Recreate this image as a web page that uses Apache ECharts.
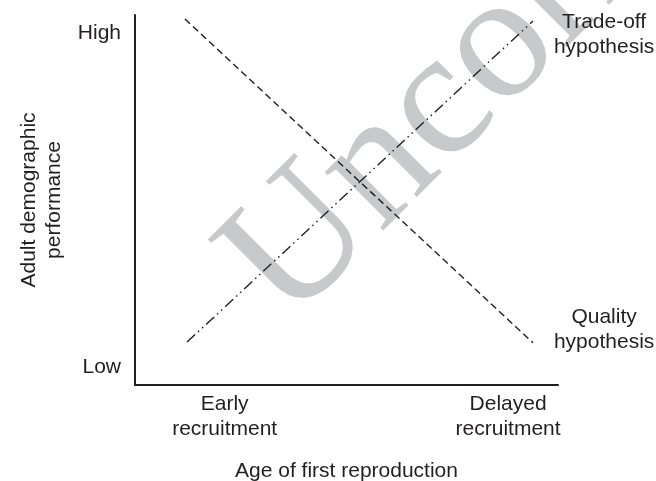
<!DOCTYPE html>
<html><head><meta charset="utf-8">
<script src="https://cdn.jsdelivr.net/npm/echarts@6/dist/echarts.min.js"></script>
<style>html,body{margin:0;padding:0;background:#fff}#c{width:656px;height:481px}</style>
</head><body><div id="c"></div>
<script>
// Axis tick labels (conceptual axes)
const xTickValues = [2.12, 8.82];
const xTickLabels = ['Early\nrecruitment', 'Delayed\nrecruitment'];
const yTickValues = [0.49, 9.51];
const yTickLabels = ['Low', 'High'];
// Hypothesis lines
const qualityHypothesis = [[1.18, 9.89], [9.41, 1.14]];
const tradeoffHypothesis = [[1.23, 1.16], [9.41, 9.84]];
// Annotations
const annotationLabels = ['Trade-off\nhypothesis', 'Quality\nhypothesis'];
const annotationPoints = [[11.09, 9.46], [11.09, 1.49]];
const xAxisTitle = 'Age of first reproduction';
const yAxisTitle = 'Adult demographic\nperformance';
const watermarkText = 'Uncorrected Proof';

const ink = '#231f20';
const font = 'Liberation Sans, Arial, Helvetica, sans-serif';
const chart = echarts.init(document.getElementById('c'), null, {renderer: 'canvas'});

chart.setOption({
  backgroundColor: '#fff',
  animation: false,
  textStyle: {fontFamily: font, color: ink},
  graphic: [{
    type: 'text', x: 255, y: 292, rotation: Math.PI / 4, z: -10, silent: true,
    style: {text: watermarkText, font: '180px "Liberation Serif", "Times New Roman", serif',
      fill: '#c8c9cb', align: 'left', verticalAlign: 'middle'}
  }],
  grid: {left: 135, right: 98, top: 15, bottom: 96, outerBoundsMode: 'none', containLabel: false},
  xAxis: {
    type: 'value', min: 0, max: 10,
    name: xAxisTitle, nameLocation: 'middle', nameGap: 74,
    nameTextStyle: {fontSize: 21, color: ink, fontFamily: font, lineHeight: 25},
    axisLine: {show: true, lineStyle: {color: ink, width: 2}},
    axisTick: {show: false}, splitLine: {show: false},
    axisLabel: {
      customValues: xTickValues, margin: 7, fontSize: 21, lineHeight: 25, color: ink, fontFamily: font,
      formatter: v => { const i = xTickValues.indexOf(v); return i >= 0 ? xTickLabels[i] : ''; }
    }
  },
  yAxis: {
    type: 'value', min: 0, max: 10,
    name: yAxisTitle, nameLocation: 'middle', nameGap: 67,
    nameTextStyle: {fontSize: 21, color: ink, fontFamily: font, lineHeight: 25},
    axisLine: {show: true, lineStyle: {color: ink, width: 2}},
    axisTick: {show: false}, splitLine: {show: false},
    axisLabel: {
      customValues: yTickValues, margin: 14, fontSize: 21, color: ink, fontFamily: font,
      formatter: v => { const i = yTickValues.indexOf(v); return i >= 0 ? yTickLabels[i] : ''; }
    }
  },
  series: [
    {type: 'line', data: qualityHypothesis, symbol: 'none', z: 3,
     lineStyle: {color: ink, width: 1.4, type: [7, 4]}},
    {type: 'line', data: tradeoffHypothesis, symbol: 'none', z: 3,
     lineStyle: {color: ink, width: 1.4, type: [11, 4, 1.5, 4, 1.5, 4]}},
    {type: 'scatter', clip: false, symbolSize: 0, silent: true,
     itemStyle: {opacity: 1},
     data: annotationPoints.map((p, i) => ({value: p, label: {formatter: annotationLabels[i]}})),
     label: {show: true, position: 'inside', fontSize: 21, lineHeight: 25, color: ink, opacity: 1,
       fontFamily: font, align: 'center'}}
  ]
});
</script></body></html>
